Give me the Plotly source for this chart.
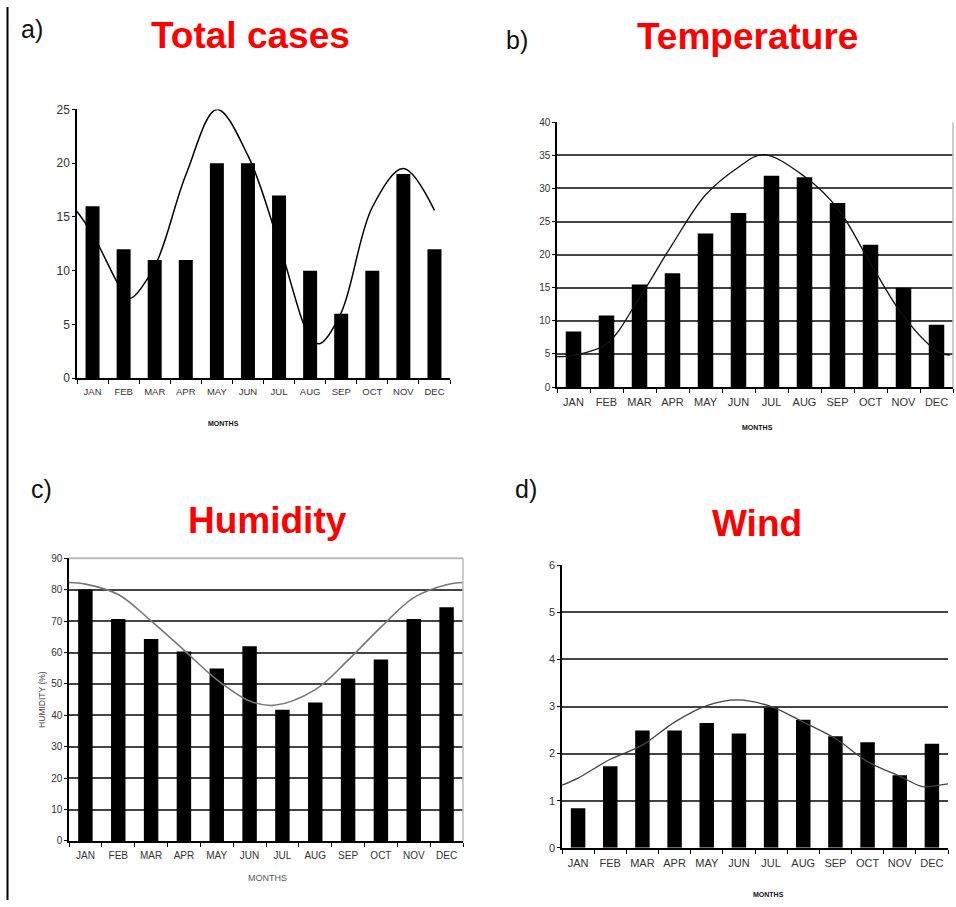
import plotly.graph_objects as go

# ---------------- data ----------------
months = ["JAN", "FEB", "MAR", "APR", "MAY", "JUN", "JUL", "AUG", "SEP", "OCT", "NOV", "DEC"]
month_pos = list(range(12))

cases = [16, 12, 11, 11, 20, 20, 17, 10, 6, 10, 19, 12]
temperature = [8.4, 10.8, 15.5, 17.2, 23.2, 26.3, 31.9, 31.7, 27.8, 21.5, 15.0, 9.4]
humidity = [80.1, 70.7, 64.3, 60.3, 54.9, 62.0, 41.8, 44.1, 51.7, 57.8, 70.7, 74.4]
wind = [0.84, 1.73, 2.49, 2.49, 2.65, 2.43, 2.98, 2.72, 2.37, 2.24, 1.54, 2.21]

cases_curve_x = [-0.5, 0, 1, 1.2, 2, 3, 4, 5, 6, 7, 7.3, 8, 9, 10, 11]
cases_curve_y = [15.5, 13.4, 7.9, 7.4, 10.4, 18.9, 25.0, 20.7, 12.5, 3.8, 3.2, 6.1, 15.9, 19.5, 15.6]

temp_curve_x = [-0.5, 0, 1, 2, 3, 4, 5, 5.75, 7, 8, 9, 10, 11, 11.4]
temp_curve_y = [4.6, 4.8, 6.5, 13.5, 21.6, 29.0, 33.2, 35.1, 31.8, 27.0, 18.7, 10.7, 5.5, 4.8]

hum_curve_x = [-0.5, 0, 1, 2, 3, 4, 5, 5.75, 7, 8, 9, 10, 11, 11.5]
hum_curve_y = [82.3, 81.8, 78.5, 70.1, 60.8, 51.4, 44.6, 43.2, 48.2, 57.6, 68.1, 77.5, 81.6, 82.3]

wind_curve_x = [-0.5, 0, 1, 2, 3, 4, 4.95, 6, 7, 8, 9, 10, 10.7, 11, 11.5]
wind_curve_y = [1.33, 1.48, 1.88, 2.18, 2.67, 3.02, 3.14, 3.0, 2.67, 2.32, 1.83, 1.52, 1.30, 1.31, 1.36]

W, H = 956, 907

fig = go.Figure()

FONT = "Liberation Sans, Arial, sans-serif"

panels = [
    dict(key="1", vals=cases, cx=cases_curve_x, cy=cases_curve_y, xd=(77, 450), yd=(104, 377),
         yr=[0, 25], dt=5, bw=0.45, cc="black", cw=1.5, grid=False, ytf=12, xtf=9.5),
    dict(key="2", vals=temperature, cx=temp_curve_x, cy=temp_curve_y, xd=(557, 953), yd=(117, 386),
         yr=[0, 40], dt=5, bw=0.47, cc="#111", cw=1.3, grid=True, ytf=10, xtf=11),
    dict(key="3", vals=humidity, cx=hum_curve_x, cy=hum_curve_y, xd=(69, 463), yd=(560, 847),
         yr=[0, 90], dt=10, bw=0.44, cc="#777", cw=1.6, grid=True, ytf=10, xtf=10),
    dict(key="4", vals=wind, cx=wind_curve_x, cy=wind_curve_y, xd=(562, 948), yd=(567, 854),
         yr=[0, 6], dt=1, bw=0.45, cc="#444", cw=1.3, grid=True, ytf=11, xtf=11),
]

shapes = []
for p in panels:
    k = p["key"]
    xa = "x" if k == "1" else "x" + k
    ya = "y" if k == "1" else "y" + k
    fig.add_trace(go.Bar(x=month_pos, y=p["vals"], width=p["bw"], marker=dict(color="black", line=dict(width=0)),
                         xaxis=xa, yaxis=ya, showlegend=False))
    fig.add_trace(go.Scatter(x=p["cx"], y=p["cy"], mode="lines",
                             line=dict(color=p["cc"], width=p["cw"], shape="spline", smoothing=1.0),
                             xaxis=xa, yaxis=ya, showlegend=False, cliponaxis=True))
    xkey = "xaxis" if k == "1" else "xaxis" + k
    ykey = "yaxis" if k == "1" else "yaxis" + k
    fig.update_layout(**{
        xkey: dict(domain=[p["xd"][0] / W, p["xd"][1] / W], range=[-0.5, 11.5], anchor=ya,
                   tickmode="array", tickvals=month_pos, ticktext=months,
                   ticks="outside", ticklen=4, tickcolor="rgba(0,0,0,0)",
                   minor=dict(tickvals=[i - 0.5 for i in range(13)], ticks="outside", ticklen=4,
                              tickcolor="black", tickwidth=1, showgrid=False),
                   showline=True, linecolor="black", linewidth=1.5, showgrid=False, zeroline=False,
                   tickfont=dict(family=FONT, size=p["xtf"], color="#333"), fixedrange=True),
        ykey: dict(domain=[1 - p["yd"][1] / H, 1 - p["yd"][0] / H], range=p["yr"], anchor=xa,
                   dtick=p["dt"], tick0=0, ticks="outside", ticklen=3, tickcolor="black",
                   showline=True, linecolor="black", linewidth=1.5,
                   showgrid=p["grid"], gridcolor="#444", gridwidth=1.5, zeroline=False,
                   tickfont=dict(family=FONT, size=p["ytf"], color="#333"), fixedrange=True),
    })

gray = "#bbbbbb"
shapes.append(dict(type="line", xref="x2 domain", yref="y2 domain", x0=1, x1=1, y0=0, y1=1,
                   line=dict(color=gray, width=1.5)))
shapes.append(dict(type="line", xref="x3 domain", yref="y3 domain", x0=1, x1=1, y0=0, y1=1,
                   line=dict(color=gray, width=1.5)))
shapes.append(dict(type="line", xref="x3 domain", yref="y3 domain", x0=0, x1=1, y0=1, y1=1,
                   line=dict(color=gray, width=2)))
shapes.append(dict(type="line", xref="paper", yref="paper", x0=7.5 / W, x1=7.5 / W, y0=0, y1=1,
                   line=dict(color="black", width=2)))

fig.update_layout(yaxis3_title=dict(text="HUMIDITY (%)", font=dict(family=FONT, size=8.5, color="#444"), standoff=4))

ann = []
def txt(text, x, y, size, color, bold=False, family=FONT):
    ann.append(dict(text=("<b>%s</b>" % text) if bold else text, x=x / W, y=1 - y / H, xref="paper", yref="paper",
                    showarrow=False, xanchor="center", yanchor="middle",
                    font=dict(family=family, size=size, color=color)))

txt("Total cases", 250, 29, 37, "#ff0000", True)
txt("Temperature", 747, 30, 37, "#ff0000", True)
txt("Humidity", 267, 522, 37, "#ff0000", True)
txt("Wind", 757, 525, 37, "#ff0000", True)

txt("a)", 32, 22, 25, "#111")
txt("b)", 517, 34, 25, "#111")
txt("c)", 41, 490, 25, "#111")
txt("d)", 526, 490, 25, "#111")

txt("MONTHS", 223, 423, 7, "#111", True)
txt("MONTHS", 757, 427, 7, "#111", True)
txt("MONTHS", 267, 885, 9, "#555")
txt("MONTHS", 768, 901, 7, "#111", True)

fig.update_layout(width=W, height=H, margin=dict(l=0, r=0, t=0, b=0),
                  paper_bgcolor="white", plot_bgcolor="white", annotations=ann, shapes=shapes,
                  bargap=0.5)

fig.write_html("out.html", config={"responsive": False, "displayModeBar": False},
               post_script="document.body.style.margin='0';document.body.style.padding='0';")
